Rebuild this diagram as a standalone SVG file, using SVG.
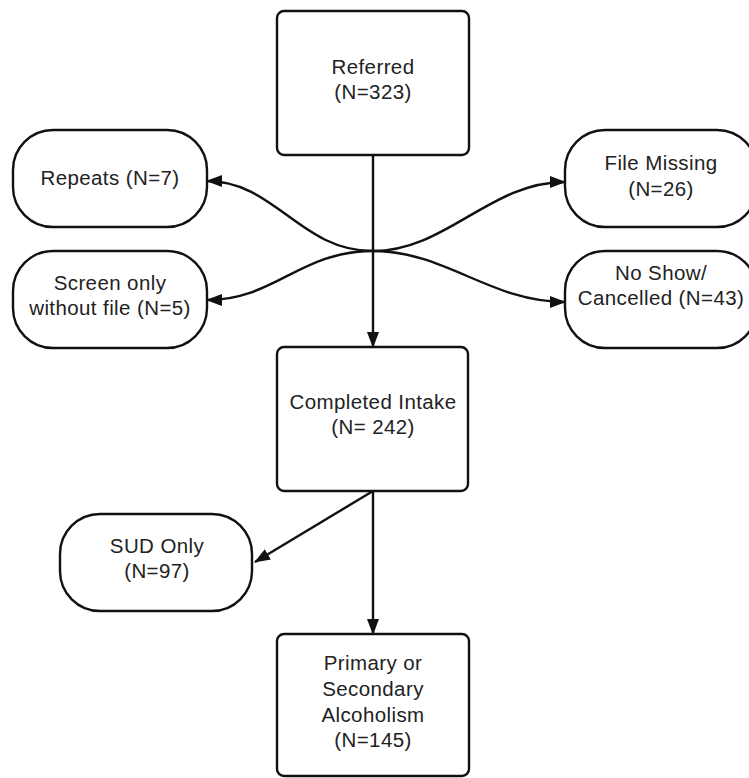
<svg xmlns="http://www.w3.org/2000/svg" width="749" height="778" viewBox="0 0 749 778">
<defs>
<marker id="ah" viewBox="0 0 16 12" refX="15" refY="6" markerWidth="16" markerHeight="12" markerUnits="userSpaceOnUse" orient="auto">
<path d="M0,0 L16,6 L0,12 Z" fill="#111"/>
</marker>
</defs>
<style>
.box{fill:#fff;stroke:#111;stroke-width:2.4}
.t{font-family:"Liberation Sans",Arial,sans-serif;font-size:20.5px;fill:#222;text-anchor:middle;letter-spacing:0.4px}
.c{fill:none;stroke:#111;stroke-width:2.4;marker-end:url(#ah)}
</style>
<rect width="749" height="778" fill="#fff"/>
<g id="connectors">
<path class="c" d="M373,155 L373,347"/>
<path class="c" d="M373,251 C300,251 275,181 207,181"/>
<path class="c" d="M373,251 C300,251 275,300 207,300"/>
<path class="c" d="M373,251 C446,251 490,182 565,182"/>
<path class="c" d="M373,251 C446,251 490,302 565,302"/>
<path class="c" d="M373,491 L373,634"/>
<path class="c" d="M373,491 L255,562"/>
</g>
<g id="referred">
<rect class="box" x="277" y="11" width="192" height="144" rx="7"/>
<text class="t" x="373" y="74">Referred</text>
<text class="t" x="373" y="99">(N=323)</text>
</g>
<g id="repeats">
<rect class="box" x="13" y="130" width="194" height="97" rx="40"/>
<text class="t" x="110" y="185">Repeats (N=7)</text>
</g>
<g id="screen">
<rect class="box" x="13" y="251" width="194" height="97" rx="40"/>
<text class="t" x="110" y="290">Screen only</text>
<text class="t" x="110" y="315">without file (N=5)</text>
</g>
<g id="filemissing">
<rect class="box" x="565" y="130" width="192" height="97" rx="40"/>
<text class="t" x="661" y="170">File Missing</text>
<text class="t" x="661" y="196">(N=26)</text>
</g>
<g id="noshow">
<rect class="box" x="565" y="251" width="192" height="97" rx="40"/>
<text class="t" x="661" y="280">No Show/</text>
<text class="t" x="661" y="305">Cancelled (N=43)</text>
</g>
<g id="completed">
<rect class="box" x="277" y="347" width="191" height="144" rx="7"/>
<text class="t" x="373" y="409">Completed Intake</text>
<text class="t" x="373" y="434">(N= 242)</text>
</g>
<g id="sud">
<rect class="box" x="60" y="514" width="192" height="97" rx="40"/>
<text class="t" x="157" y="553">SUD Only</text>
<text class="t" x="157" y="578">(N=97)</text>
</g>
<g id="primary">
<rect class="box" x="277" y="634" width="192" height="142" rx="7"/>
<text class="t" x="373" y="670">Primary or</text>
<text class="t" x="373" y="696">Secondary</text>
<text class="t" x="373" y="722">Alcoholism</text>
<text class="t" x="373" y="747">(N=145)</text>
</g>
</svg>
